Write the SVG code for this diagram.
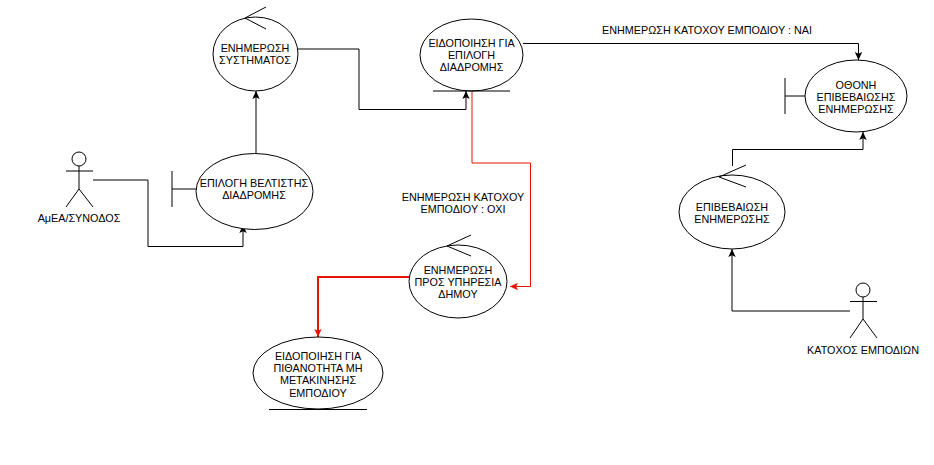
<svg xmlns="http://www.w3.org/2000/svg" width="934" height="465" viewBox="0 0 934 465">
<style>
text{font-family:"Liberation Sans",Arial,sans-serif;font-size:10.8px;fill:#000;text-anchor:middle}
.s{fill:#fff;stroke:#000;stroke-width:1}
.l{fill:none;stroke:#000;stroke-width:1}
.c{fill:none;stroke:#000;stroke-width:1}
.r{fill:none;stroke:#e51400;stroke-width:1}
.t{fill:none;stroke:#e51400;stroke-width:2}
</style>
<defs>
<marker id="a" markerUnits="userSpaceOnUse" markerWidth="10" markerHeight="10" refX="8" refY="4.5" orient="auto"><path d="M0 0.800 L8 4.500 L0 8.200 L1.800 4.500 Z" fill="#000"/></marker>
<marker id="ar" markerUnits="userSpaceOnUse" markerWidth="10" markerHeight="10" refX="8" refY="4.5" orient="auto"><path d="M0 0.800 L8 4.500 L0 8.200 L1.800 4.500 Z" fill="#e51400"/></marker>
</defs>
<rect width="934" height="465" fill="#fff"/>
<g id="connectors">
<path class="c" marker-end="url(#a)" d="M93 180H148V246.500H243V225"/>
<path class="c" marker-end="url(#a)" d="M256 153V91"/>
<path class="c" marker-end="url(#a)" d="M298 49H359V109.500H466V91"/>
<path class="c" marker-end="url(#a)" d="M523 43.500H858.500V60"/>
<path class="c" marker-end="url(#a)" d="M732.500 166V149.500H863V132"/>
<path class="c" marker-end="url(#a)" d="M850 311H732V249"/>
<path class="r" marker-end="url(#ar)" d="M472 91V163H530.500V286.500H510"/>
<path class="t" marker-end="url(#ar)" d="M409 277H318V337"/>
</g>
<g id="actor-amea">
<circle class="s" cx="79" cy="159" r="7"/>
<path class="l" d="M79 166V189M66 171H93M66 207L79 189L93 207"/>
<text x="79" y="222">ΑμΕΑ/ΣΥΝΟΔΟΣ</text>
</g>
<g id="node-epilogi">
<path class="l" d="M172 171V207M172 189H196"/>
<ellipse class="s" cx="254.500" cy="191.500" rx="58.500" ry="38"/>
<text x="254" y="187">ΕΠΙΛΟΓΗ ΒΕΛΤΙΣΤΗΣ</text>
<text x="254" y="199">ΔΙΑΔΡΟΜΗΣ</text>
</g>
<g id="node-enimerosi-systimatos">
<ellipse class="s" cx="255.500" cy="54" rx="42.500" ry="37"/>
<path class="l" d="M266 7L245 18L266 29"/>
<text x="255" y="52">ΕΝΗΜΕΡΩΣΗ</text>
<text x="255" y="64">ΣΥΣΤΗΜΑΤΟΣ</text>
</g>
<g id="node-eidopoiisi-epilogi">
<ellipse class="s" cx="471.500" cy="55" rx="51.500" ry="36"/>
<path class="l" d="M433 91H510"/>
<text x="471.500" y="47">ΕΙΔΟΠΟΙΗΣΗ ΓΙΑ</text>
<text x="471.500" y="59">ΕΠΙΛΟΓΗ</text>
<text x="471.500" y="71">ΔΙΑΔΡΟΜΗΣ</text>
</g>
<g id="node-othoni">
<path class="l" d="M785 78V114M785 96H805"/>
<ellipse class="s" cx="856" cy="96" rx="51" ry="36"/>
<text x="856" y="89">ΟΘΟΝΗ</text>
<text x="856" y="101">ΕΠΙΒΕΒΑΙΩΣΗΣ</text>
<text x="856" y="113">ΕΝΗΜΕΡΩΣΗΣ</text>
</g>
<g id="node-epivevaiosi">
<ellipse class="s" cx="732" cy="212" rx="53" ry="37"/>
<path class="l" d="M746 165L719 177L746 187"/>
<text x="732" y="211">ΕΠΙΒΕΒΑΙΩΣΗ</text>
<text x="732" y="223">ΕΝΗΜΕΡΩΣΗΣ</text>
</g>
<g id="node-enimerosi-ypiresia">
<ellipse class="s" cx="458" cy="281.500" rx="49" ry="36.500"/>
<path class="l" d="M471 235L447 246L471 256"/>
<text x="458" y="274">ΕΝΗΜΕΡΩΣΗ</text>
<text x="458" y="286">ΠΡΟΣ ΥΠΗΡΕΣΙΑ</text>
<text x="458" y="298">ΔΗΜΟΥ</text>
</g>
<g id="node-eidopoiisi-pithanotita">
<ellipse class="s" cx="318" cy="373" rx="65" ry="36"/>
<path class="l" d="M269 409.500H367"/>
<text x="318" y="360">ΕΙΔΟΠΟΙΗΣΗ ΓΙΑ</text>
<text x="318" y="372">ΠΙΘΑΝΟΤΗΤΑ ΜΗ</text>
<text x="318" y="384">ΜΕΤΑΚΙΝΗΣΗΣ</text>
<text x="318" y="397">ΕΜΠΟΔΙΟΥ</text>
</g>
<g id="actor-katoxos">
<circle class="s" cx="863" cy="290" r="7"/>
<path class="l" d="M863 297V319M850 301.500H877M850 338L863 319L877 338"/>
<text x="863" y="354">ΚΑΤΟΧΟΣ ΕΜΠΟΔΙΩΝ</text>
</g>
<g id="labels">
<text x="707" y="34">ΕΝΗΜΕΡΩΣΗ ΚΑΤΟΧΟΥ ΕΜΠΟΔΙΟΥ : ΝΑΙ</text>
<text x="463" y="201">ΕΝΗΜΕΡΩΣΗ ΚΑΤΟΧΟΥ</text>
<text x="463" y="213">ΕΜΠΟΔΙΟΥ : ΟΧΙ</text>
</g>
</svg>
